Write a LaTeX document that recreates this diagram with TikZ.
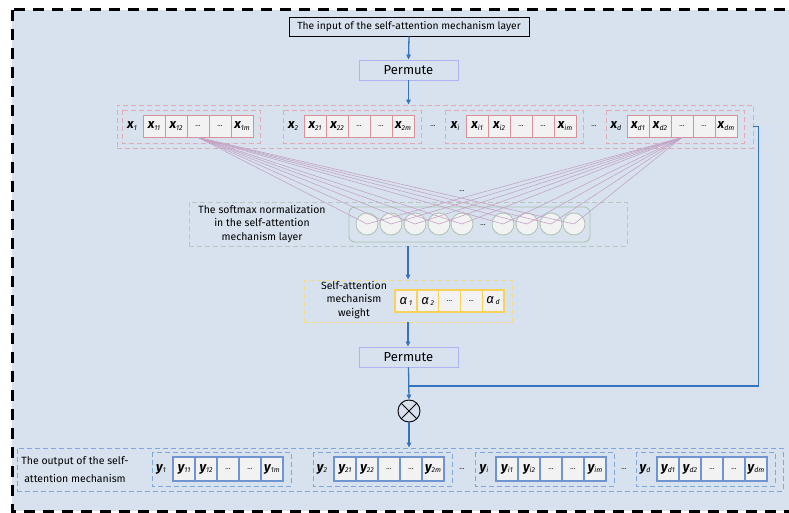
\documentclass[tikz,border=0pt]{standalone}
\usepackage{fontspec}
\setmainfont{Fira Sans}
\usetikzlibrary{arrows.meta}

\definecolor{bg}{RGB}{215,226,238}
\definecolor{cellfill}{RGB}{242,242,242}
\definecolor{pinkline}{RGB}{214,146,152}
\definecolor{pinkdash}{RGB}{226,170,178}
\definecolor{violetline}{RGB}{196,164,198}
\definecolor{greenline}{RGB}{172,196,176}
\definecolor{greendash}{RGB}{184,200,192}
\definecolor{yellowline}{RGB}{246,210,90}
\definecolor{yellowdash}{RGB}{240,220,140}
\definecolor{bluecell}{RGB}{112,148,208}
\definecolor{bluedash}{RGB}{128,166,220}
\definecolor{arrowblue}{RGB}{52,116,190}
\definecolor{permline}{RGB}{176,180,244}

% variable with an index: big italic letter, small italic index
\newcommand\vx[2]{{\fontsize{13}{13}\selectfont\itshape\bfseries #1}\raisebox{-1.5pt}{\fontsize{7}{7}\selectfont\itshape #2}}
\newcommand\va[1]{{\fontsize{13}{13}\selectfont\itshape α}\,\raisebox{-1pt}{\fontsize{7}{7}\selectfont\itshape #1}}
\newcommand\dotcell{{\fontsize{7}{7}\selectfont ...}}

\begin{document}
\begin{tikzpicture}[x=1pt,y=-1pt,
  xcell/.style={draw=pinkline, fill=cellfill, line width=0.9pt, minimum width=22pt, minimum height=22pt, inner sep=0pt},
  ycell/.style={draw=bluecell, fill=cellfill, line width=1.4pt, minimum width=22pt, minimum height=24pt, inner sep=0pt},
  acell/.style={draw=yellowline, fill=cellfill, line width=1.4pt, minimum width=21.8pt, minimum height=22pt, inner sep=0pt},
  unit/.style={draw=greenline, fill=cellfill, line width=0.8pt, circle, minimum size=22pt, inner sep=0pt},
  permbox/.style={draw=permline, line width=0.9pt, minimum width=99pt, minimum height=20pt, inner sep=0pt, font=\fontsize{13}{13}\selectfont},
  note/.style={align=center, font=\fontsize{10.5}{13.5}\selectfont},
  longdash/.style={dash pattern=on 5pt off 3pt},
  flow/.style={draw=arrowblue, line width=1.3pt, -{Triangle[length=5pt,width=4.5pt]}},
  flowline/.style={draw=arrowblue, line width=1.3pt},
  fan/.style={draw=violetline, line width=0.6pt}
]
\clip (0,0) rectangle (789,513);
\fill[white] (0,0) rectangle (789,513);
\fill[bg] (12,10) rectangle (800,511);
\draw[line width=3pt, dash pattern=on 11pt off 8pt] (12,10) rectangle (800,511);

% input and first permute
\node[draw, line width=0.8pt, minimum width=240pt, minimum height=19pt, inner sep=0pt,
      font=\fontsize{10.3}{10.3}\selectfont] (inp) at (409,26.5) {The input of the self-attention mechanism layer};
\node[permbox] (perm1) at (408.5,70) {Permute};

% input sequences
\node[draw=pinkdash, longdash, line width=0.8pt, minimum width=636pt, minimum height=43pt, inner sep=0pt] (bigx) at (435,126.5) {};
\foreach \n/\cx/\l/\a/\b/\m in {1/143/1/11/12/1m, 2/304/2/21/22/2m, i/466/i/i1/i2/im, d/627/d/d1/d2/dm}{
  \draw[pinkdash, longdash, line width=0.8pt] (\cx-21,110) rectangle (\cx+117,143);
  \node (x\n-lab) at (\cx-11,126) {\vx{x}{\l}};
  \node[xcell] (x\n-c1) at (\cx+11,126) {\vx{x}{\a}};
  \node[xcell] (x\n-c2) at (\cx+33,126) {\vx{x}{\b}};
  \node[xcell] (x\n-c3) at (\cx+55,126) {\dotcell};
  \node[xcell] (x\n-c4) at (\cx+77,126) {\dotcell};
  \node[xcell] (x\n-c5) at (\cx+99,126) {\vx{x}{\m}};
}
\node (xdots1) at (433,126) {\dotcell};
\node (xdots2) at (594,126) {\dotcell};

% softmax layer
\node[draw=greendash, longdash, line width=0.9pt, minimum width=438pt, minimum height=44pt, inner sep=0pt] (smbox) at (408,224) {};
\node[note] (smtext) at (262,224) {The softmax normalization\\in the self-attention\\mechanism layer};
\draw[greenline, line width=0.9pt, rounded corners=6pt] (349,207) rectangle (590,242);
\foreach \k/\px in {1/367,2/391,3/415,4/439,5/462,6/503,7/527,8/551,9/574}{
  \node[unit] (c\k) at (\px,224) {};
}
\node (cdots) at (483,225) {\dotcell};
\node (fandots) at (462,191) {\dotcell};
\foreach \k in {1,...,9}{
  \draw[fan] (x1-c3.south) -- (c\k.center);
  \draw[fan] (xd-c3.south) -- (c\k.center);
}

% attention weights
\node[draw=yellowdash, longdash, line width=0.9pt, minimum width=208pt, minimum height=42pt, inner sep=0pt] (ybox) at (408,301) {};
\node[note] (ytext) at (354,300) {Self-attention\\mechanism\\weight};
\foreach \k/\t [count=\i from 0] in {1/\va{1},2/\va{2},3/\dotcell,4/\dotcell,5/\va{d}}{
  \node[acell] (a\k) at (405.9+21.8*\i,301) {\t};
}

% second permute and product
\node[permbox] (perm2) at (408.5,357) {Permute};
\node[circle, draw, line width=0.9pt, minimum size=22pt, inner sep=0pt,
      path picture={\draw[line width=0.8pt] (path picture bounding box.north west) -- (path picture bounding box.south east)
                    (path picture bounding box.north east) -- (path picture bounding box.south west);}] (mul) at (409,411) {};
\coordinate (join) at (409,386);

% output sequences
\node[draw=bluedash, longdash, line width=0.9pt, minimum width=766pt, minimum height=43pt, inner sep=0pt] (outbox) at (400,469.5) {};
\node[align=center, font=\fontsize{10.5}{18}\selectfont] (outtext) at (75,470) {The output of the self-\\attention mechanism};
\foreach \n/\cx/\l/\a/\b/\m in {1/173/1/11/12/1m, 2/334/2/21/22/2m, i/496/i/i1/i2/im, d/657/d/d1/d2/dm}{
  \draw[bluedash, longdash, line width=0.9pt] (\cx-21,452) rectangle (\cx+118,486);
  \node (y\n-lab) at (\cx-12,469) {\vx{y}{\l}};
  \node[ycell] (y\n-c1) at (\cx+11,469) {\vx{y}{\a}};
  \node[ycell] (y\n-c2) at (\cx+33,469) {\vx{y}{\b}};
  \node[ycell] (y\n-c3) at (\cx+55,469) {\dotcell};
  \node[ycell] (y\n-c4) at (\cx+77,469) {\dotcell};
  \node[ycell] (y\n-c5) at (\cx+99,469) {\vx{y}{\m}};
}
\node (ydots1) at (462,469) {\dotcell};
\node (ydots2) at (624,469) {\dotcell};

% connectors
\draw[flow] (inp.south) -- (perm1.north);
\draw[flow] (perm1.south) -- (perm1.south |- bigx.north);
\draw[flow] (smbox.south) -- (ybox.north);
\draw[flow] (ybox.south) -- (ybox.south |- perm2.north);
\draw[flow] (perm2.south) -- (mul.north);
\draw[flow] (mul.south) -- (mul.south |- outbox.north);
\draw[flowline] (bigx.east) -- ++(5,0) |- (join);
\end{tikzpicture}
\end{document}
